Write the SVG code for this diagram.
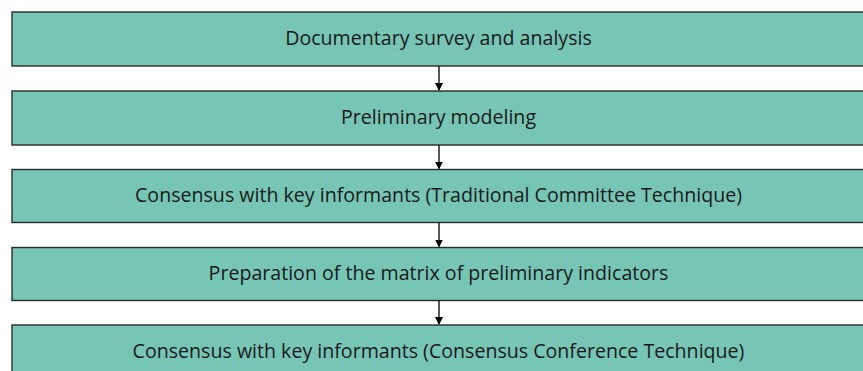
<svg xmlns="http://www.w3.org/2000/svg" width="863" height="371" viewBox="0 0 863 371">
<style>
.box{fill:#77c5b5;stroke:#2b2b2b;stroke-width:1.4}
.lbl{font-family:"Open Sans","Liberation Sans",sans-serif;font-size:19.6px;fill:#1a1a1a;text-anchor:middle;dominant-baseline:central}
.con{stroke:#000;stroke-width:1.3;fill:none;marker-end:url(#ah)}
</style>
<defs>
<marker id="ah" markerWidth="8" markerHeight="10" refX="7" refY="4" orient="auto" markerUnits="userSpaceOnUse" viewBox="0 0 8 8">
<path d="M0,0 L8,4 L0,8 Z" fill="#000"/>
</marker>
</defs>
<rect width="863" height="371" fill="#fff"/>
<g id="n1"><rect class="box" x="12" y="12" width="860" height="54"/><text class="lbl" x="438.5" y="37.5">Documentary survey and analysis</text></g>
<g id="n2"><rect class="box" x="12" y="91" width="860" height="54"/><text class="lbl" x="438.5" y="116.5">Preliminary modeling</text></g>
<g id="n3"><rect class="box" x="12" y="169.5" width="860" height="53"/><text class="lbl" x="438.5" y="194.5">Consensus with key informants (Traditional Committee Technique)</text></g>
<g id="n4"><rect class="box" x="12" y="247.5" width="860" height="53"/><text class="lbl" x="438.5" y="272.5">Preparation of the matrix of preliminary indicators</text></g>
<g id="n5"><rect class="box" x="12" y="325" width="860" height="60"/><text class="lbl" x="438.5" y="350">Consensus with key informants (Consensus Conference Technique)</text></g>
<g id="connectors">
<line class="con" x1="439" y1="66" x2="439" y2="90"/>
<line class="con" x1="439" y1="145" x2="439" y2="168.5"/>
<line class="con" x1="439" y1="222.5" x2="439" y2="246.5"/>
<line class="con" x1="439" y1="300.5" x2="439" y2="324"/>
</g>
</svg>
